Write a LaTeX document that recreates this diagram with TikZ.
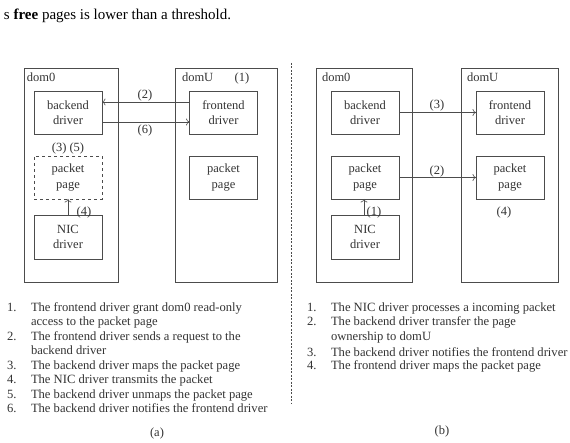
\documentclass[tikz,border=0pt]{standalone}
\usepackage{fontspec}
\setmainfont{Liberation Serif}
\usetikzlibrary{arrows.meta}
\begin{document}
\begin{tikzpicture}[x=1pt,y=-1pt,
  every node/.style={inner sep=0pt,outer sep=0pt,text=black!80},
  lbl/.style={font=\fontsize{12.5}{14}\selectfont},
  dom/.style={draw=black!70,line width=0.6pt,minimum height=214pt},
  box/.style={draw=black!70,line width=0.6pt,minimum width=68pt,minimum height=43pt,align=center,font=\fontsize{12.5}{15.3}\selectfont},
  arr/.style={draw=black!70,line width=0.6pt,-{To[length=3.5pt,width=7pt]}},
  item/.style={anchor=base west,font=\fontsize{12.6}{14}\selectfont},
]
\useasboundingbox (0,0) rectangle (570,443);
\fill[white] (0,0) rectangle (570,443);
\node[anchor=base west,font=\fontsize{15}{17}\selectfont,text=black] (top) at (4,20) {s \textbf{free} pages is lower than a threshold.};

% (a)
\node[dom,minimum width=94pt] (d0a) at (71,175) {};
\node[dom,minimum width=102pt] (dua) at (226,175) {};
\node[lbl,anchor=base west] (d0al) at (27,82) {dom0};
\node[lbl,anchor=base west] (dual) at (182,82) {domU};
\node[lbl,anchor=base] (n1a) at (242,82) {(1)};
\node[box] (beA) at (68,112.5) {backend\\driver};
\node[box] (feA) at (223.5,112.5) {frontend\\driver};
\node[box,dashed] (ppA) at (68,177.5) {packet\\page};
\node[box,minimum height=44pt] (nicA) at (68,237) {NIC\\driver};
\node[box] (puA) at (223.5,177.5) {packet\\page};
\draw[arr] ([yshift=10.5pt]feA.west) -- ([yshift=10.5pt]beA.east);
\draw[arr] ([yshift=-9.5pt]beA.east) -- ([yshift=-9.5pt]feA.west);
\node[lbl,anchor=base] (l2a) at (145,99) {(2)};
\node[lbl,anchor=base] (l6a) at (145,134) {(6)};
\node[lbl,anchor=base] (l35a) at (68,152) {(3) (5)};
\draw[arr] (nicA.north) -- (ppA.south);
\node[lbl,anchor=base] (l4a) at (84,216) {(4)};

% separator
\coordinate (s1) at (291,63);
\coordinate (s2) at (291,403);
\draw[black!70,dash pattern=on 2pt off 1.5pt,line width=0.5pt] (s1) -- (s2);

% (b)
\node[dom,minimum width=96pt] (d0b) at (364,175) {};
\node[dom,minimum width=97pt] (dub) at (509.5,175) {};
\node[lbl,anchor=base west] (d0bl) at (322,82) {dom0};
\node[lbl,anchor=base west] (dubl) at (467,82) {domU};
\node[box] (beB) at (365,112.5) {backend\\driver};
\node[box] (feB) at (510,112.5) {frontend\\driver};
\node[box] (ppB) at (365,177.5) {packet\\page};
\node[box] (puB) at (510,177.5) {packet\\page};
\node[box,minimum height=44pt] (nicB) at (365,237) {NIC\\driver};
\draw[arr] (beB.east) -- (feB.west);
\draw[arr] (ppB.east) -- (puB.west);
\draw[arr] ([xshift=-1pt]nicB.north) -- ([xshift=-1pt]ppB.south);
\node[lbl,anchor=base] (l3b) at (437,109) {(3)};
\node[lbl,anchor=base] (l2b) at (437,175) {(2)};
\node[lbl,anchor=base] (l1b) at (374,216) {(1)};
\node[lbl,anchor=base] (l4b) at (504,216) {(4)};

% list (a)
\node[item] (an1) at (7,312) {1.};
\node[item] (at1) at (31,312) {The frontend driver grant dom0 read-only};
\node[item] (at1b) at (31,326) {access to the packet page};
\node[item] (an2) at (7,341) {2.};
\node[item] (at2) at (31,341) {The frontend driver sends a request to the};
\node[item] (at2b) at (31,355) {backend driver};
\node[item] (an3) at (7,370) {3.};
\node[item] (at3) at (31,370) {The backend driver maps the packet page};
\node[item] (an4) at (7,384) {4.};
\node[item] (at4) at (31,384) {The NIC driver transmits the packet};
\node[item] (an5) at (7,398) {5.};
\node[item] (at5) at (31,398) {The backend driver unmaps the packet page};
\node[item] (an6) at (7,412) {6.};
\node[item] (at6) at (31,412) {The backend driver notifies the frontend driver};
\node[lbl,anchor=base] (capa) at (157,436) {(a)};

% list (b)
\node[item] (bn1) at (307,312) {1.};
\node[item] (bt1) at (331,312) {The NIC driver processes a incoming packet};
\node[item] (bn2) at (307,326) {2.};
\node[item] (bt2) at (331,326) {The backend driver transfer the page};
\node[item] (bt2b) at (331,341) {ownership to domU};
\node[item] (bn3) at (307,356) {3.};
\node[item] (bt3) at (331,356) {The backend driver notifies the frontend driver};
\node[item] (bn4) at (307,370) {4.};
\node[item] (bt4) at (331,370) {The frontend driver maps the packet page};
\node[lbl,anchor=base] (capb) at (442,434) {(b)};
\end{tikzpicture}
\end{document}
